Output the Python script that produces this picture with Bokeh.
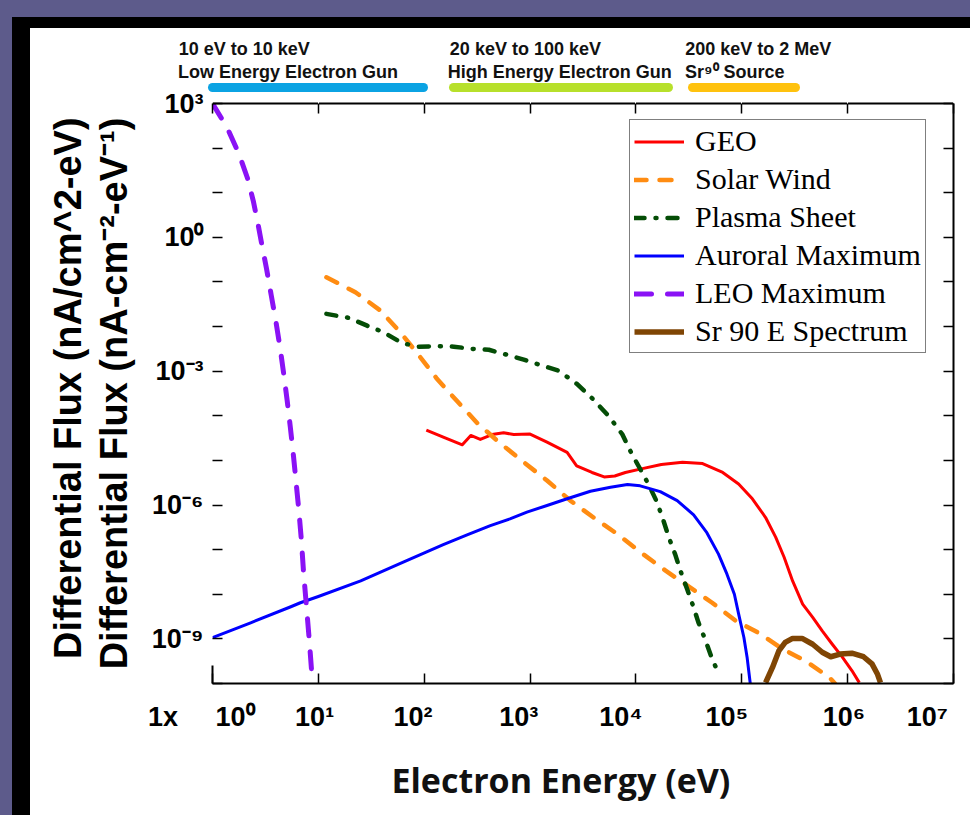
import numpy as np
from bokeh.plotting import figure
from bokeh.models import (LogAxis, FixedTicker, CustomJSTickFormatter, Legend, LegendItem,
                          GlobalInlineStyleSheet)
from bokeh.embed import file_html
from bokeh.resources import INLINE

# ---------------- data (log10 of energy in eV, log10 of flux) ----------------
geo_logE = [2.02, 2.18, 2.36, 2.44, 2.53, 2.64, 2.75, 2.845, 3.00, 3.16, 3.35, 3.44, 3.585, 3.70,
            3.80, 3.90, 4.05, 4.24, 4.44, 4.63, 4.82, 4.97, 5.10, 5.225, 5.32, 5.40, 5.48, 5.575,
            5.67, 5.76, 5.855, 5.95, 6.04, 6.11]
geo_logF = [-4.32, -4.48, -4.65, -4.44, -4.53, -4.42, -4.38, -4.42, -4.41, -4.59, -4.82, -5.12,
            -5.27, -5.37, -5.35, -5.27, -5.19, -5.09, -5.04, -5.07, -5.27, -5.53, -5.86, -6.28,
            -6.72, -7.17, -7.70, -8.22, -8.52, -8.82, -9.12, -9.41, -9.71, -9.98]

sw_logE = [1.076, 1.35, 1.586, 1.775, 1.964, 2.12, 2.31, 2.50, 2.70, 2.94, 3.16, 3.38, 3.60,
           3.83, 4.05, 4.28, 4.50, 4.72, 4.94, 5.17, 5.38, 5.60, 5.83, 5.88]
sw_logF = [-0.895, -1.23, -1.64, -2.13, -2.69, -3.17, -3.67, -4.16, -4.58, -5.04, -5.45, -5.90,
           -6.28, -6.66, -7.07, -7.47, -7.83, -8.19, -8.59, -8.88, -9.22, -9.49, -9.87, -10.0]

ps_logE = [1.076, 1.287, 1.461, 1.618, 1.79, 1.948, 2.12, 2.28, 2.45, 2.61, 2.78, 2.94, 3.11,
           3.27, 3.44, 3.60, 3.74, 3.87, 3.96, 4.035, 4.12, 4.20, 4.26, 4.31, 4.37, 4.42, 4.48,
           4.54, 4.59, 4.655, 4.72, 4.78]
ps_logF = [-1.715, -1.805, -1.98, -2.13, -2.37, -2.45, -2.44, -2.45, -2.50, -2.52, -2.63, -2.74,
           -2.87, -2.99, -3.28, -3.64, -4.00, -4.41, -4.85, -5.17, -5.54, -5.94, -6.35, -6.72,
           -7.10, -7.47, -7.86, -8.26, -8.63, -9.02, -9.45, -9.77]

au_logE = [0.0, 0.36, 0.74, 0.83, 1.0, 1.40, 1.775, 1.964, 2.18, 2.405, 2.625, 2.81, 2.97, 3.16,
           3.35, 3.57, 3.76, 3.92, 4.04, 4.23, 4.39, 4.545, 4.67, 4.78, 4.86, 4.93, 4.97, 5.02,
           5.05, 5.08]
au_logF = [-8.97, -8.64, -8.28, -8.19, -8.05, -7.70, -7.31, -7.11, -6.89, -6.67, -6.46, -6.31,
           -6.16, -6.01, -5.86, -5.69, -5.60, -5.54, -5.57, -5.70, -5.90, -6.22, -6.62, -7.10,
           -7.55, -8.00, -8.44, -8.97, -9.41, -10.0]

leo_logE = [0.0, 0.14, 0.25, 0.33, 0.385, 0.43, 0.465, 0.51, 0.555, 0.60, 0.64, 0.675, 0.705,
            0.735, 0.765, 0.79, 0.815, 0.84, 0.86, 0.885, 0.915, 0.945]
leo_logF = [3.0, 2.45, 1.87, 1.33, 0.82, 0.3, -0.15, -0.7, -1.3, -1.9, -2.5, -3.1, -3.65, -4.25,
            -4.9, -5.5, -6.1, -6.8, -7.5, -8.2, -9.05, -10.0]

sr_logE = [5.225, 5.29, 5.35, 5.41, 5.48, 5.57, 5.67, 5.76, 5.84, 5.93, 6.04, 6.15, 6.23, 6.28, 6.31]
sr_logF = [-9.98, -9.64, -9.27, -9.08, -8.99, -8.99, -9.12, -9.30, -9.40, -9.34, -9.32, -9.40,
           -9.56, -9.78, -9.98]

series_names = ["GEO", "Solar Wind", "Plasma Sheet", "Auroral Maximum", "LEO Maximum",
                "Sr 90 E Spectrum"]

x_tick_exp = [0, 1, 2, 3, 4, 5, 6, 7]
y_tick_exp = list(range(-10, 4))
y_label_exp = [3, 0, -3, -6, -9]

band_titles = ["10 eV to 10 keV", "20 keV to 100 keV", "200 keV to 2 MeV"]
band_names = ["Low Energy Electron Gun", "High Energy Electron Gun", "Sr\u2079\u2070 Source"]
# where each band caption is centred (eV on the energy axis) and the span of its colour bar
band_title_at = [10 ** 0.30, 10 ** 2.956, 10 ** 5.156]
band_name_at = [10 ** 0.713, 10 ** 3.281, 10 ** 4.934]
band_bar_span = [(10 ** -0.316, 10 ** 1.99), (10 ** 2.28, 10 ** 4.31), (10 ** 4.537, 10 ** 5.51)]
band_colors = ["#0ba3e3", "#b7e02b", "#ffc20e"]

SUP = {"0": "\u2070", "1": "\u00b9", "2": "\u00b2", "3": "\u00b3", "4": "\u2074", "5": "\u2075",
       "6": "\u2076", "7": "\u2077", "8": "\u2078", "9": "\u2079", "-": "\u207b"}


def sup(n):
    return "".join(SUP[c] for c in str(n))


NB = "\u00a0"
# horizontal nudges of the x tick labels, as (prefix, trailing no-break spaces)
x_label_pre = ["1x" + NB * 5, "", "", "", "", "", "", ""]
x_label_trail = [3, 1, 3, 3, 4, 4, 1, 3]
x_label_text = [a + "10" + sup(e) + NB * b for e, a, b in zip(x_tick_exp, x_label_pre, x_label_trail)]
y_label_text = ["10" + sup(e) for e in y_label_exp]

# ---------------- figure ----------------
p = figure(width=970, height=815, x_axis_type="log", y_axis_type="log",
           x_range=(1, 1e7), y_range=(1e-10, 1e3), output_backend="svg",
           toolbar_location=None, min_border_left=212, min_border_right=17,
           min_border_top=103, min_border_bottom=132)
p.border_fill_color = None
p.background_fill_color = "white"
p.outline_line_color = None
p.grid.visible = False

css = """
html { background-color: #5d5b8b;
       background-image: linear-gradient(#ffffff, #ffffff), linear-gradient(#000000, #000000);
       background-repeat: no-repeat;
       background-position: 30px 28px, 12px 17px;
       background-size: 4000px 4000px, 4000px 4000px; }
body { background: transparent !important; }
"""
p.stylesheets = [GlobalInlineStyleSheet(css=css)]

xticks = [10.0 ** e for e in x_tick_exp]
yticks = [10.0 ** e for e in y_tick_exp]
SANS = "Liberation Sans"


def blank_axis(ax, ticks=()):
    ax.ticker = FixedTicker(ticks=list(ticks))
    ax.major_tick_in = 0
    ax.major_tick_out = 0
    ax.minor_tick_line_color = None
    ax.major_tick_line_color = None
    ax.axis_line_color = None
    ax.formatter = CustomJSTickFormatter(code="return ''")
    ax.major_label_standoff = 0
    return ax


def tick_axis(ax, ticks, line=True):
    blank_axis(ax, ticks)
    ax.major_tick_in = 10
    ax.major_tick_line_color = "black"
    ax.major_tick_line_width = 1.5
    ax.axis_line_color = "black" if line else None
    ax.axis_line_width = 2
    return ax


# frame ticks (all four sides); left spine is missing in the original
tick_axis(p.xaxis[0], xticks)
tick_axis(p.yaxis[0], yticks, line=False)
p.add_layout(tick_axis(LogAxis(), xticks), "above")
p.add_layout(tick_axis(LogAxis(), yticks), "right")

# short remnant of the left spine near the bottom
stub = blank_axis(LogAxis())
stub.bounds = (1e-10, 10 ** -9.6)
stub.axis_line_color = "black"
stub.axis_line_width = 2
p.add_layout(stub, "left")

# y tick labels + title
ylab = blank_axis(LogAxis(), [10.0 ** e for e in y_label_exp])
ylab.formatter = CustomJSTickFormatter(args=dict(exps=y_label_exp, labels=y_label_text),
    code="const e = Math.round(Math.log10(tick)); const i = exps.indexOf(e); return i < 0 ? '' : labels[i];")
ylab.major_label_standoff = 9
ylab.major_label_text_font = SANS
ylab.major_label_text_font_style = "bold"
ylab.major_label_text_font_size = "27px"
ylab.major_label_text_color = "black"
ylab.axis_label = "Differential Flux (nA-cm\u207b\u00b2-eV\u207b\u00b9)"
ylab.axis_label_standoff = 14
ylab.axis_label_text_font = SANS
ylab.axis_label_text_font_style = "bold"
ylab.axis_label_text_font_size = "38px"
ylab.axis_label_text_color = "black"
p.add_layout(ylab, "left")

# older label left behind in the source picture
ghost = blank_axis(LogAxis())
ghost.axis_label = NB + "Differential Flux (nA/cm^2-eV)"
ghost.axis_label_standoff = 1
ghost.axis_label_text_font = SANS
ghost.axis_label_text_font_style = "bold"
ghost.axis_label_text_font_size = "38px"
ghost.axis_label_text_color = "black"
p.add_layout(ghost, "left")

# x tick labels + title
xlab = blank_axis(LogAxis(), xticks)
xlab.formatter = CustomJSTickFormatter(args=dict(exps=x_tick_exp, labels=x_label_text),
    code="const e = Math.round(Math.log10(tick)); const i = exps.indexOf(e); return i < 0 ? '' : labels[i];")
xlab.major_label_standoff = 18
xlab.major_label_text_font = SANS
xlab.major_label_text_font_style = "bold"
xlab.major_label_text_font_size = "27px"
xlab.major_label_text_color = "black"
xlab.axis_label = "Electron Energy (eV)" + NB * 5
xlab.axis_label_standoff = 22
xlab.axis_label_text_font = "Open Sans"
xlab.axis_label_text_font_style = "bold"
xlab.axis_label_text_font_size = "34px"
xlab.axis_label_text_color = "#111111"
p.add_layout(xlab, "below")

# ---------------- energy band captions above the plot ----------------
spacer = blank_axis(LogAxis(), xticks)
spacer.major_tick_out = 16
spacer.major_tick_line_color = "white"
p.add_layout(spacer, "above")
for (b0, b1), c in zip(band_bar_span, band_colors):
    bar = blank_axis(LogAxis())
    bar.bounds = (b0, b1)
    bar.axis_line_color = c
    bar.axis_line_width = 9
    bar.axis_line_cap = "round"
    p.add_layout(bar, "above")


def caption_axis(ticks, texts, standoff):
    ax = blank_axis(LogAxis(), ticks)
    ax.bounds = (0.3, 1e6)
    ax.formatter = CustomJSTickFormatter(args=dict(locs=ticks, labels=texts),
        code="let k = 0; let d = 1e9; for (let j = 0; j < locs.length; j++) { const q = Math.abs(Math.log10(locs[j]) - Math.log10(tick)); if (q < d) { d = q; k = j; } } return labels[k];")
    ax.major_label_standoff = standoff
    ax.major_label_text_font = SANS
    ax.major_label_text_font_style = "bold"
    ax.major_label_text_font_size = "18px"
    ax.major_label_text_color = "#111111"
    return ax


p.add_layout(caption_axis(band_name_at, band_names, 6), "above")
p.add_layout(caption_axis(band_title_at, band_titles, 0), "above")

# ---------------- lines ----------------
def pw(a):
    return [10.0 ** v for v in a]

r_geo = p.line(pw(geo_logE), pw(geo_logF), line_color="#ff0000", line_width=3, line_join="round")
r_sw = p.line(pw(sw_logE), pw(sw_logF), line_color="#ff8c12", line_width=4.5, line_dash="12 13",
              line_cap="round", line_join="round")
r_ps = p.line(pw(ps_logE), pw(ps_logF), line_color="#044d06", line_width=4.5, line_dash="10 11 1 11",
              line_cap="round", line_join="round")
r_au = p.line(pw(au_logE), pw(au_logF), line_color="#0000ff", line_width=3, line_join="round")
r_leo = p.line(pw(leo_logE), pw(leo_logF), line_color="#8a12f5", line_width=5, line_dash="17 16",
               line_cap="round", line_join="round")
r_sr = p.line(pw(sr_logE), pw(sr_logF), line_color="#7f4504", line_width=5.5, line_join="round")

renderers = [r_geo, r_sw, r_ps, r_au, r_leo, r_sr]
legend = Legend(items=[LegendItem(label=n, renderers=[r]) for n, r in zip(series_names, renderers)],
                location=(417, 330), label_text_font="Liberation Serif", label_text_font_size="30px",
                label_text_color="black", glyph_width=50, glyph_height=31, label_height=31,
                label_standoff=11, spacing=4, padding=4, margin=0, border_line_color="black",
                border_line_width=1.5, background_fill_color="white", background_fill_alpha=1.0)
p.add_layout(legend)

open("out.html", "w").write(file_html(p, INLINE))
